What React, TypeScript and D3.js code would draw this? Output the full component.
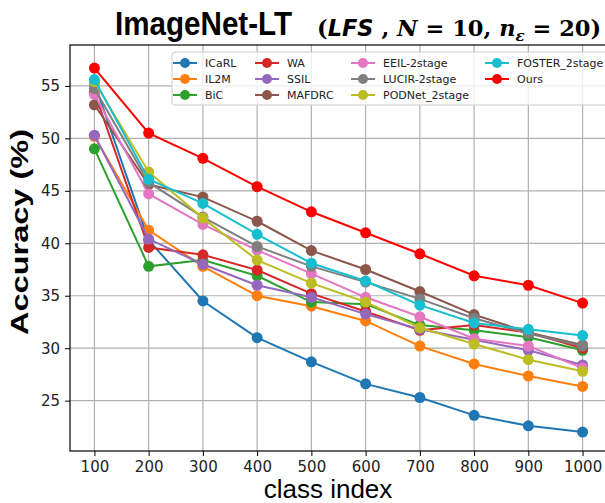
import React, { useRef, useEffect } from 'react';
import * as d3 from 'd3';

// class index steps
const classIndex = [100, 200, 300, 400, 500, 600, 700, 800, 900, 1000];

// accuracy per method
const icarl = [55.3, 40.3, 34.5, 31.0, 28.7, 26.6, 25.3, 23.6, 22.6, 22.0];
const il2m = [50.2, 41.25, 37.8, 35.0, 34.0, 32.6, 30.2, 28.5, 27.35, 26.35];
const bic = [49.0, 37.8, 38.4, 36.9, 34.4, 34.2, 32.2, 31.7, 31.05, 29.8];
const wa = [54.4, 39.6, 38.9, 37.45, 35.2, 33.5, 31.7, 32.2, 31.5, 30.0];
const ssil = [50.3, 40.4, 38.0, 36.0, 34.85, 33.25, 31.8, 30.8, 29.8, 28.4];
const mafdrc = [53.2, 45.6, 44.4, 42.1, 39.3, 37.5, 35.4, 33.2, 31.5, 30.3];
const eeil = [54.2, 44.7, 41.8, 39.35, 37.1, 34.85, 33.0, 30.9, 30.2, 28.1];
const lucir = [54.75, 45.8, 42.5, 39.7, 37.8, 36.3, 34.7, 32.85, 31.4, 30.2];
const podnet = [55.4, 46.8, 42.4, 38.4, 36.2, 34.4, 31.95, 30.4, 28.9, 27.8];
const foster = [55.6, 46.1, 43.8, 40.85, 38.1, 36.4, 34.1, 32.4, 31.8, 31.2];
const ours = [56.7, 50.5, 48.1, 45.4, 43.0, 41.0, 39.0, 36.9, 36.0, 34.3];

const seriesNames = ['ICaRL', 'IL2M', 'BiC', 'WA', 'SSIL', 'MAFDRC', 'EEIL-2stage', 'LUCIR-2stage', 'PODNet_2stage', 'FOSTER_2stage', 'Ours'];
const seriesValues = [icarl, il2m, bic, wa, ssil, mafdrc, eeil, lucir, podnet, foster, ours];
const seriesColors = ['#1f77b4', '#ff7f0e', '#2ca02c', '#d62728', '#9467bd', '#8c564b', '#e377c2', '#7f7f7f', '#bcbd22', '#17becf', '#ff0000'];

const yTicks = [25, 30, 35, 40, 45, 50, 55];

const App = () => {
  const svgRef = useRef<SVGSVGElement>(null);

  useEffect(() => {
    if (!svgRef.current) return;
    const svg = d3.select(svgRef.current);
    svg.selectAll('*').remove();

    const W = 605;
    const H = 503;
    const plot = { left: 70, right: 607, top: 45, bottom: 451 };

    const x = d3.scaleLinear().domain([55, 1045]).range([plot.left, plot.right]);
    const y = d3.scaleLinear().domain([20.2, 58.9]).range([plot.bottom, plot.top]);

    svg.attr('width', W).attr('height', H);
    svg.append('rect').attr('width', W).attr('height', H).attr('fill', '#fff');

    // grid
    const grid = svg.append('g');
    grid.selectAll('line.gx')
      .data(classIndex)
      .enter()
      .append('line')
      .attr('x1', d => x(d))
      .attr('x2', d => x(d))
      .attr('y1', plot.top)
      .attr('y2', plot.bottom)
      .attr('stroke', '#b0b0b0')
      .attr('stroke-width', 1.2);
    grid.selectAll('line.gy')
      .data(yTicks)
      .enter()
      .append('line')
      .attr('x1', plot.left)
      .attr('x2', plot.right)
      .attr('y1', d => y(d))
      .attr('y2', d => y(d))
      .attr('stroke', '#b0b0b0')
      .attr('stroke-width', 1.2);

    // axes
    const xAxis = d3.axisBottom(x).tickValues(classIndex).tickSize(5).tickPadding(5).tickFormat(d3.format('d'));
    const yAxis = d3.axisLeft(y).tickValues(yTicks).tickSize(5).tickPadding(5);

    const gx = svg.append('g').attr('transform', `translate(0,${plot.bottom})`).call(xAxis);
    const gy = svg.append('g').attr('transform', `translate(${plot.left},0)`).call(yAxis);
    [gx, gy].forEach(g => {
      g.select('.domain').remove();
      g.selectAll('.tick line').attr('stroke', '#000').attr('stroke-width', 1);
      g.selectAll('.tick text')
        .attr('fill', '#222')
        .style('font-family', 'DejaVu Sans, sans-serif')
        .style('font-size', '15px');
    });

    // frame
    svg.append('rect')
      .attr('x', plot.left)
      .attr('y', plot.top)
      .attr('width', plot.right - plot.left)
      .attr('height', plot.bottom - plot.top)
      .attr('fill', 'none')
      .attr('stroke', '#000')
      .attr('stroke-width', 1.2);

    // lines
    const line = d3.line<number>()
      .x((d, i) => x(classIndex[i]))
      .y(d => y(d));

    seriesValues.forEach((vals, i) => {
      const color = seriesColors[i];
      const g = svg.append('g');
      g.append('path')
        .datum(vals)
        .attr('fill', 'none')
        .attr('stroke', color)
        .attr('stroke-width', 2)
        .attr('d', line);
      g.selectAll('circle')
        .data(vals)
        .enter()
        .append('circle')
        .attr('cx', (d, j) => x(classIndex[j]))
        .attr('cy', d => y(d))
        .attr('r', 5.5)
        .attr('fill', color);
    });

    // legend
    const legend = svg.append('g');
    legend.append('rect')
      .attr('x', 172)
      .attr('y', 52)
      .attr('width', 440)
      .attr('height', 53)
      .attr('rx', 3)
      .attr('fill', '#fff')
      .attr('fill-opacity', 0.8)
      .attr('stroke', '#cccccc')
      .attr('stroke-width', 1);

    const colX = [173, 255, 351, 485];
    const rowY = [63, 79, 95];
    seriesNames.forEach((name, i) => {
      const col = Math.floor(i / 3);
      const row = i % 3;
      const item = legend.append('g').attr('transform', `translate(${colX[col]},${rowY[row]})`);
      item.append('line')
        .attr('x1', 0)
        .attr('x2', 24)
        .attr('stroke', seriesColors[i])
        .attr('stroke-width', 2);
      item.append('circle')
        .attr('cx', 12)
        .attr('r', 5)
        .attr('fill', seriesColors[i]);
      item.append('text')
        .attr('x', 32)
        .attr('y', 4)
        .attr('fill', '#222')
        .style('font-family', 'DejaVu Sans, sans-serif')
        .style('font-size', '11px')
        .text(name);
    });

    // title
    svg.append('text')
      .attr('x', 115)
      .attr('y', 35)
      .attr('fill', '#000')
      .attr('textLength', 177)
      .attr('lengthAdjust', 'spacingAndGlyphs')
      .style('font-family', 'Liberation Sans, Arial, sans-serif')
      .style('font-weight', 'bold')
      .style('font-size', '34px')
      .text('ImageNet-LT');

    const sub = svg.append('text')
      .attr('x', 317)
      .attr('y', 36)
      .attr('fill', '#000')
      .style('font-family', 'DejaVu Serif, serif')
      .style('font-weight', 'bold')
      .style('font-size', '22.5px');
    sub.append('tspan').text('(');
    sub.append('tspan').style('font-style', 'italic').style('font-family', 'DejaVu Sans, sans-serif').text('LFS');
    sub.append('tspan').text(' , ');
    sub.append('tspan').style('font-style', 'italic').text('N');
    sub.append('tspan').text(' = 10, ');
    sub.append('tspan').style('font-style', 'italic').text('n');
    sub.append('tspan').style('font-style', 'italic').style('font-size', '15px').attr('dy', 5).text('ε');
    sub.append('tspan').attr('dy', -5).text(' = 20)');

    // axis labels
    svg.append('text')
      .attr('transform', `translate(28,232) rotate(-90)`)
      .attr('text-anchor', 'middle')
      .attr('fill', '#000')
      .attr('textLength', 206)
      .attr('lengthAdjust', 'spacingAndGlyphs')
      .style('font-family', 'Liberation Sans, Arial, sans-serif')
      .style('font-weight', 'bold')
      .style('font-size', '23px')
      .text('Accuracy (%)');

    svg.append('text')
      .attr('x', 328)
      .attr('y', 498)
      .attr('text-anchor', 'middle')
      .attr('fill', '#000')
      .style('font-family', 'Liberation Sans, Arial, sans-serif')
      .style('font-size', '26px')
      .text('class index');
  }, []);

  return (
    <div style={{ position: 'absolute', left: 0, top: 0 }}>
      <svg ref={svgRef} style={{ display: 'block' }}></svg>
    </div>
  );
};

export default App;
